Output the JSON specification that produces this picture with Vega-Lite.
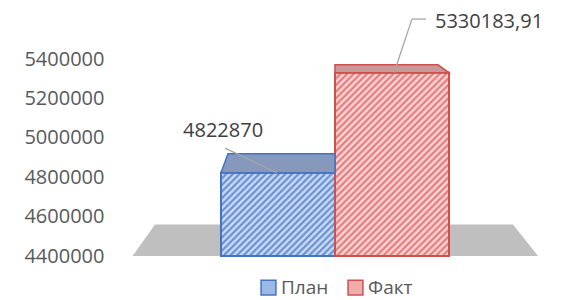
{
  "$schema": "https://vega.github.io/schema/vega-lite/v6.json",
  "width": 451,
  "height": 256,
  "autosize": {"type": "none"},
  "padding": {"left": 112, "top": 0, "right": 0, "bottom": 44},
  "background": "#ffffff",
  "config": {
    "view": {"stroke": null},
    "font": "Open Sans",
    "legend": {
      "title": null,
      "orient": "none",
      "legendX": 147,
      "legendY": 278,
      "direction": "horizontal",
      "symbolType": "square",
      "symbolSize": 220,
      "symbolStrokeWidth": 1.5,
      "labelFont": "Open Sans",
      "labelFontSize": 19,
      "labelColor": "#595959",
      "labelOffset": 3,
      "columnPadding": 16
    }
  },
  "datasets": {
    "bars": [
      {"series": "План", "start": 0, "end": 1, "value": 4822870},
      {"series": "Факт", "start": 1, "end": 2, "value": 5330183.91}
    ],
    "floor": [
      {"x": -0.775, "y": 4400000},
      {"x": -0.579, "y": 4560000},
      {"x": 2.561, "y": 4560000},
      {"x": 2.781, "y": 4400000}
    ],
    "planTop": [
      {"x": 0, "y": 4822870, "y2": 4822870},
      {"x": 0.061, "y": 4919317, "y2": 4822870},
      {"x": 1, "y": 4919317, "y2": 4822870}
    ],
    "factTop": [
      {"x": 1, "y": 5370793, "y2": 5330183.91},
      {"x": 1.904, "y": 5370793, "y2": 5330183.91},
      {"x": 2, "y": 5330183.91, "y2": 5330183.91}
    ],
    "leaders": [
      {"x": 0.035, "y": 4948000, "x2": 0.49, "y2": 4822870},
      {"x": 1.675, "y": 5603046, "x2": 1.798, "y2": 5603046},
      {"x": 1.675, "y": 5603046, "x2": 1.518, "y2": 5330183.91}
    ],
    "labels": [
      {"x": -0.333, "y": 5034518, "text": "4822870"},
      {"x": 1.877, "y": 5587817, "text": "5330183,91"}
    ]
  },
  "layer": [
    {
      "data": {"name": "floor"},
      "mark": {"type": "area", "fill": "#bfbfbf", "interpolate": "linear"},
      "encoding": {
        "x": {"field": "x", "type": "quantitative", "scale": {"domain": [-0.956, 3.0], "nice": false, "zero": false}, "axis": null},
        "y": {"field": "y", "type": "quantitative", "scale": {"domain": [4400000, 5700000], "nice": false, "zero": false},
          "axis": {"title": null, "domain": false, "ticks": false, "grid": false, "values": [4400000, 4600000, 4800000, 5000000, 5200000, 5400000], "format": "d", "labelFont": "Open Sans", "labelFontSize": 20, "labelColor": "#595959", "labelPadding": 8}},
        "y2": {"datum": 4400000}
      }
    },
    {
      "data": {"name": "bars"},
      "mark": {"type": "bar", "strokeWidth": 2},
      "encoding": {
        "x": {"field": "start", "type": "quantitative", "scale": {"domain": [-0.956, 3.0], "nice": false, "zero": false}, "axis": null},
        "x2": {"field": "end"},
        "y": {"field": "value", "type": "quantitative", "scale": {"domain": [4400000, 5700000], "nice": false, "zero": false}},
        "y2": {"datum": 4400000},
        "fill": {"field": "series", "type": "nominal", "scale": {"domain": ["План", "Факт"], "range": ["#9bb9e5", "#f0abab"]}, "legend": {"title": null}},
        "stroke": {"field": "series", "type": "nominal", "scale": {"domain": ["План", "Факт"], "range": ["#4472c4", "#d0504f"]}, "legend": {"title": null}}
      }
    },
    {
      "data": {"name": "bars"},
      "transform": [{"filter": "datum.series === 'План'"}],
      "mark": {"type": "bar", "stroke": "#4472c4", "strokeWidth": 2,
        "fill": {"gradient": "linear", "x1": 0, "y1": 0, "x2": 1.128, "y2": 0.824, "stops": [
          {"offset": 0, "color": "#5a87d2"}, {"offset": 0.0167, "color": "#dde8f7"},
          {"offset": 0.0333, "color": "#5a87d2"}, {"offset": 0.05, "color": "#dde8f7"},
          {"offset": 0.0667, "color": "#5a87d2"}, {"offset": 0.0833, "color": "#dde8f7"},
          {"offset": 0.1, "color": "#5a87d2"}, {"offset": 0.1167, "color": "#dde8f7"},
          {"offset": 0.1333, "color": "#5a87d2"}, {"offset": 0.15, "color": "#dde8f7"},
          {"offset": 0.1667, "color": "#5a87d2"}, {"offset": 0.1833, "color": "#dde8f7"},
          {"offset": 0.2, "color": "#5a87d2"}, {"offset": 0.2167, "color": "#dde8f7"},
          {"offset": 0.2333, "color": "#5a87d2"}, {"offset": 0.25, "color": "#dde8f7"},
          {"offset": 0.2667, "color": "#5a87d2"}, {"offset": 0.2833, "color": "#dde8f7"},
          {"offset": 0.3, "color": "#5a87d2"}, {"offset": 0.3167, "color": "#dde8f7"},
          {"offset": 0.3333, "color": "#5a87d2"}, {"offset": 0.35, "color": "#dde8f7"},
          {"offset": 0.3667, "color": "#5a87d2"}, {"offset": 0.3833, "color": "#dde8f7"},
          {"offset": 0.4, "color": "#5a87d2"}, {"offset": 0.4167, "color": "#dde8f7"},
          {"offset": 0.4333, "color": "#5a87d2"}, {"offset": 0.45, "color": "#dde8f7"},
          {"offset": 0.4667, "color": "#5a87d2"}, {"offset": 0.4833, "color": "#dde8f7"},
          {"offset": 0.5, "color": "#5a87d2"}, {"offset": 0.5167, "color": "#dde8f7"},
          {"offset": 0.5333, "color": "#5a87d2"}, {"offset": 0.55, "color": "#dde8f7"},
          {"offset": 0.5667, "color": "#5a87d2"}, {"offset": 0.5833, "color": "#dde8f7"},
          {"offset": 0.6, "color": "#5a87d2"}, {"offset": 0.6167, "color": "#dde8f7"},
          {"offset": 0.6333, "color": "#5a87d2"}, {"offset": 0.65, "color": "#dde8f7"},
          {"offset": 0.6667, "color": "#5a87d2"}, {"offset": 0.6833, "color": "#dde8f7"},
          {"offset": 0.7, "color": "#5a87d2"}, {"offset": 0.7167, "color": "#dde8f7"},
          {"offset": 0.7333, "color": "#5a87d2"}, {"offset": 0.75, "color": "#dde8f7"},
          {"offset": 0.7667, "color": "#5a87d2"}, {"offset": 0.7833, "color": "#dde8f7"},
          {"offset": 0.8, "color": "#5a87d2"}, {"offset": 0.8167, "color": "#dde8f7"},
          {"offset": 0.8333, "color": "#5a87d2"}, {"offset": 0.85, "color": "#dde8f7"},
          {"offset": 0.8667, "color": "#5a87d2"}, {"offset": 0.8833, "color": "#dde8f7"},
          {"offset": 0.9, "color": "#5a87d2"}, {"offset": 0.9167, "color": "#dde8f7"},
          {"offset": 0.9333, "color": "#5a87d2"}, {"offset": 0.95, "color": "#dde8f7"},
          {"offset": 0.9667, "color": "#5a87d2"}, {"offset": 0.9833, "color": "#dde8f7"},
          {"offset": 1, "color": "#5a87d2"}
        ]}},
      "encoding": {
        "x": {"field": "start", "type": "quantitative", "scale": {"domain": [-0.956, 3.0], "nice": false, "zero": false}, "axis": null},
        "x2": {"field": "end"},
        "y": {"field": "value", "type": "quantitative", "scale": {"domain": [4400000, 5700000], "nice": false, "zero": false}},
        "y2": {"datum": 4400000}
      }
    },
    {
      "data": {"name": "bars"},
      "transform": [{"filter": "datum.series === 'Факт'"}],
      "mark": {"type": "bar", "stroke": "#d0504f", "strokeWidth": 2,
        "fill": {"gradient": "linear", "x1": 0, "y1": 0, "x2": 0.7274, "y2": 1.1695, "stops": [
          {"offset": 0, "color": "#e27272"}, {"offset": 0.0111, "color": "#fde4e4"},
          {"offset": 0.0222, "color": "#e27272"}, {"offset": 0.0333, "color": "#fde4e4"},
          {"offset": 0.0444, "color": "#e27272"}, {"offset": 0.0556, "color": "#fde4e4"},
          {"offset": 0.0667, "color": "#e27272"}, {"offset": 0.0778, "color": "#fde4e4"},
          {"offset": 0.0889, "color": "#e27272"}, {"offset": 0.1, "color": "#fde4e4"},
          {"offset": 0.1111, "color": "#e27272"}, {"offset": 0.1222, "color": "#fde4e4"},
          {"offset": 0.1333, "color": "#e27272"}, {"offset": 0.1444, "color": "#fde4e4"},
          {"offset": 0.1556, "color": "#e27272"}, {"offset": 0.1667, "color": "#fde4e4"},
          {"offset": 0.1778, "color": "#e27272"}, {"offset": 0.1889, "color": "#fde4e4"},
          {"offset": 0.2, "color": "#e27272"}, {"offset": 0.2111, "color": "#fde4e4"},
          {"offset": 0.2222, "color": "#e27272"}, {"offset": 0.2333, "color": "#fde4e4"},
          {"offset": 0.2444, "color": "#e27272"}, {"offset": 0.2556, "color": "#fde4e4"},
          {"offset": 0.2667, "color": "#e27272"}, {"offset": 0.2778, "color": "#fde4e4"},
          {"offset": 0.2889, "color": "#e27272"}, {"offset": 0.3, "color": "#fde4e4"},
          {"offset": 0.3111, "color": "#e27272"}, {"offset": 0.3222, "color": "#fde4e4"},
          {"offset": 0.3333, "color": "#e27272"}, {"offset": 0.3444, "color": "#fde4e4"},
          {"offset": 0.3556, "color": "#e27272"}, {"offset": 0.3667, "color": "#fde4e4"},
          {"offset": 0.3778, "color": "#e27272"}, {"offset": 0.3889, "color": "#fde4e4"},
          {"offset": 0.4, "color": "#e27272"}, {"offset": 0.4111, "color": "#fde4e4"},
          {"offset": 0.4222, "color": "#e27272"}, {"offset": 0.4333, "color": "#fde4e4"},
          {"offset": 0.4444, "color": "#e27272"}, {"offset": 0.4556, "color": "#fde4e4"},
          {"offset": 0.4667, "color": "#e27272"}, {"offset": 0.4778, "color": "#fde4e4"},
          {"offset": 0.4889, "color": "#e27272"}, {"offset": 0.5, "color": "#fde4e4"},
          {"offset": 0.5111, "color": "#e27272"}, {"offset": 0.5222, "color": "#fde4e4"},
          {"offset": 0.5333, "color": "#e27272"}, {"offset": 0.5444, "color": "#fde4e4"},
          {"offset": 0.5556, "color": "#e27272"}, {"offset": 0.5667, "color": "#fde4e4"},
          {"offset": 0.5778, "color": "#e27272"}, {"offset": 0.5889, "color": "#fde4e4"},
          {"offset": 0.6, "color": "#e27272"}, {"offset": 0.6111, "color": "#fde4e4"},
          {"offset": 0.6222, "color": "#e27272"}, {"offset": 0.6333, "color": "#fde4e4"},
          {"offset": 0.6444, "color": "#e27272"}, {"offset": 0.6556, "color": "#fde4e4"},
          {"offset": 0.6667, "color": "#e27272"}, {"offset": 0.6778, "color": "#fde4e4"},
          {"offset": 0.6889, "color": "#e27272"}, {"offset": 0.7, "color": "#fde4e4"},
          {"offset": 0.7111, "color": "#e27272"}, {"offset": 0.7222, "color": "#fde4e4"},
          {"offset": 0.7333, "color": "#e27272"}, {"offset": 0.7444, "color": "#fde4e4"},
          {"offset": 0.7556, "color": "#e27272"}, {"offset": 0.7667, "color": "#fde4e4"},
          {"offset": 0.7778, "color": "#e27272"}, {"offset": 0.7889, "color": "#fde4e4"},
          {"offset": 0.8, "color": "#e27272"}, {"offset": 0.8111, "color": "#fde4e4"},
          {"offset": 0.8222, "color": "#e27272"}, {"offset": 0.8333, "color": "#fde4e4"},
          {"offset": 0.8444, "color": "#e27272"}, {"offset": 0.8556, "color": "#fde4e4"},
          {"offset": 0.8667, "color": "#e27272"}, {"offset": 0.8778, "color": "#fde4e4"},
          {"offset": 0.8889, "color": "#e27272"}, {"offset": 0.9, "color": "#fde4e4"},
          {"offset": 0.9111, "color": "#e27272"}, {"offset": 0.9222, "color": "#fde4e4"},
          {"offset": 0.9333, "color": "#e27272"}, {"offset": 0.9444, "color": "#fde4e4"},
          {"offset": 0.9556, "color": "#e27272"}, {"offset": 0.9667, "color": "#fde4e4"},
          {"offset": 0.9778, "color": "#e27272"}, {"offset": 0.9889, "color": "#fde4e4"},
          {"offset": 1, "color": "#e27272"}
        ]}},
      "encoding": {
        "x": {"field": "start", "type": "quantitative", "scale": {"domain": [-0.956, 3.0], "nice": false, "zero": false}, "axis": null},
        "x2": {"field": "end"},
        "y": {"field": "value", "type": "quantitative", "scale": {"domain": [4400000, 5700000], "nice": false, "zero": false}},
        "y2": {"datum": 4400000}
      }
    },
    {
      "data": {"name": "planTop"},
      "mark": {"type": "area", "fill": "#8699bd", "stroke": "#4472c4", "strokeWidth": 1.5, "interpolate": "linear"},
      "encoding": {
        "x": {"field": "x", "type": "quantitative", "scale": {"domain": [-0.956, 3.0], "nice": false, "zero": false}, "axis": null},
        "y": {"field": "y", "type": "quantitative", "scale": {"domain": [4400000, 5700000], "nice": false, "zero": false}},
        "y2": {"field": "y2"}
      }
    },
    {
      "data": {"name": "factTop"},
      "mark": {"type": "area", "fill": "#c99898", "stroke": "#d0504f", "strokeWidth": 1.5, "interpolate": "linear"},
      "encoding": {
        "x": {"field": "x", "type": "quantitative", "scale": {"domain": [-0.956, 3.0], "nice": false, "zero": false}, "axis": null},
        "y": {"field": "y", "type": "quantitative", "scale": {"domain": [4400000, 5700000], "nice": false, "zero": false}},
        "y2": {"field": "y2"}
      }
    },
    {
      "data": {"name": "leaders"},
      "mark": {"type": "rule", "color": "#a6a6a6", "strokeWidth": 1.3},
      "encoding": {
        "x": {"field": "x", "type": "quantitative", "scale": {"domain": [-0.956, 3.0], "nice": false, "zero": false}, "axis": null},
        "y": {"field": "y", "type": "quantitative", "scale": {"domain": [4400000, 5700000], "nice": false, "zero": false}},
        "x2": {"field": "x2"},
        "y2": {"field": "y2"}
      }
    },
    {
      "data": {"name": "labels"},
      "mark": {"type": "text", "align": "left", "baseline": "middle", "font": "Open Sans", "fontSize": 20, "color": "#404040"},
      "encoding": {
        "x": {"field": "x", "type": "quantitative", "scale": {"domain": [-0.956, 3.0], "nice": false, "zero": false}, "axis": null},
        "y": {"field": "y", "type": "quantitative", "scale": {"domain": [4400000, 5700000], "nice": false, "zero": false}},
        "text": {"field": "text", "type": "nominal"}
      }
    }
  ]
}
